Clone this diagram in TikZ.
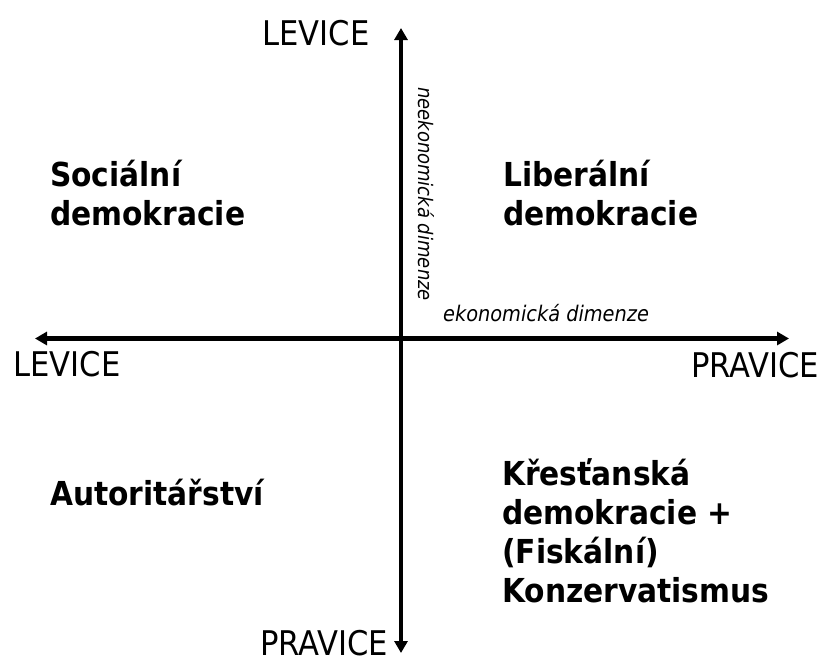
\documentclass[tikz,border=0pt]{standalone}
\usepackage{fontspec}
\setmainfont{DejaVu Sans Condensed}
\usetikzlibrary{arrows.meta}

\begin{document}
\begin{tikzpicture}[
  x=1pt, y=-1pt,
  axis/.style={{Triangle[length=12pt,width=13pt]}-{Triangle[length=12pt,width=13pt]}, line width=4.5pt},
  pole/.style={font=\fontsize{34}{40}\selectfont, inner sep=0pt},
  quadrant/.style={font=\fontsize{33}{39}\selectfont\bfseries, align=left, anchor=base west, inner sep=0pt},
  dimlabel/.style={font=\fontsize{20}{24}\selectfont\itshape, inner sep=0pt}
]
\useasboundingbox (0,0) rectangle (826,662);
\coordinate (up) at (401,28);
\coordinate (down) at (401,653);
\coordinate (west) at (35,338.5);
\coordinate (east) at (789,338.5);
\draw[axis] (west) -- (east);
\draw[axis] (down) -- (up);
\node[pole] (levtop) at (316,33) {LEVICE};
\node[pole] (levleft) at (67,364) {LEVICE};
\node[pole] (pravright) at (755,365) {PRAVICE};
\node[pole] (pravbottom) at (324,643) {PRAVICE};
\node[dimlabel, font=\fontsize{21.5}{25}\selectfont\itshape, anchor=base west] (economic) at (443,321) {ekonomická dimenze};
\node[dimlabel, rotate=-90] (noneconomic) at (426,194) {neekonomická dimenze};
% base = baseline of the last line
\node[quadrant] (socdem) at (50,225.5) {Sociální\\demokracie};
\node[quadrant] (libdem) at (503,225) {Liberální\\demokracie};
\node[quadrant] (autor) at (50,505) {Autoritářství};
\node[quadrant] (christdem) at (502,602) {Křesťanská\\demokracie +\\(Fiskální)\\Konzervatismus};
\end{tikzpicture}
\end{document}
